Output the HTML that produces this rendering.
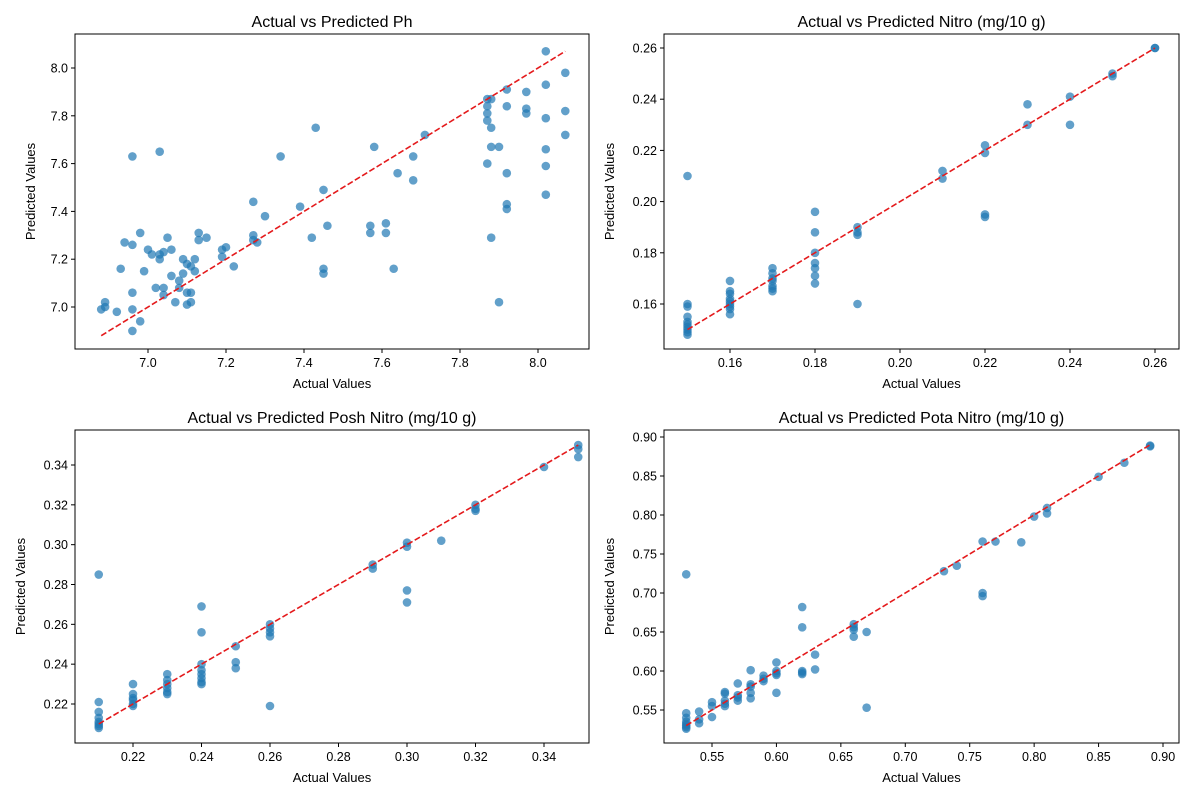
<!DOCTYPE html>
<html><head><meta charset="utf-8"><style>
html,body{margin:0;padding:0;background:#fff;}
svg{display:block;font-family:"Liberation Sans","DejaVu Sans",sans-serif;}
</style></head><body>
<svg id="fig" width="1200" height="800" viewBox="0 0 1200 800" xmlns="http://www.w3.org/2000/svg"></svg>
<script>
const phActual=[6.88,6.89,6.89,6.92,6.93,6.94,6.96,6.96,6.96,6.96,6.96,6.98,6.98,6.99,7.00,7.01,7.02,7.03,7.03,7.03,7.04,7.04,7.04,7.05,7.06,7.06,7.07,7.08,7.08,7.09,7.09,7.10,7.10,7.10,7.11,7.11,7.11,7.12,7.12,7.13,7.13,7.15,7.19,7.19,7.20,7.22,7.27,7.27,7.27,7.28,7.30,7.34,7.39,7.42,7.43,7.45,7.45,7.45,7.46,7.57,7.57,7.58,7.61,7.61,7.63,7.64,7.68,7.68,7.71,7.87,7.87,7.87,7.87,7.87,7.88,7.88,7.88,7.88,7.90,7.90,7.92,7.92,7.92,7.92,7.92,7.97,7.97,7.97,8.02,8.02,8.02,8.02,8.02,8.02,8.07,8.07,8.07];
const phPred=[6.99,7.02,7.00,6.98,7.16,7.27,7.63,7.26,7.06,6.99,6.90,7.31,6.94,7.15,7.24,7.22,7.08,7.65,7.22,7.20,7.23,7.08,7.05,7.29,7.24,7.13,7.02,7.11,7.08,7.20,7.14,7.18,7.06,7.01,7.17,7.06,7.02,7.20,7.15,7.31,7.28,7.29,7.24,7.21,7.25,7.17,7.44,7.30,7.28,7.27,7.38,7.63,7.42,7.29,7.75,7.49,7.16,7.14,7.34,7.34,7.31,7.67,7.35,7.31,7.16,7.56,7.63,7.53,7.72,7.87,7.84,7.81,7.78,7.60,7.87,7.75,7.67,7.29,7.67,7.02,7.91,7.84,7.56,7.43,7.41,7.90,7.83,7.81,8.07,7.93,7.79,7.66,7.59,7.47,7.98,7.82,7.72];
const nitroActual=[0.15,0.15,0.15,0.15,0.15,0.15,0.15,0.15,0.15,0.15,0.16,0.16,0.16,0.16,0.16,0.16,0.16,0.16,0.16,0.17,0.17,0.17,0.17,0.17,0.17,0.17,0.18,0.18,0.18,0.18,0.18,0.18,0.18,0.19,0.19,0.19,0.19,0.21,0.21,0.22,0.22,0.22,0.22,0.23,0.23,0.24,0.24,0.25,0.25,0.26,0.26];
const nitroPred=[0.210,0.160,0.159,0.155,0.153,0.152,0.151,0.150,0.149,0.148,0.169,0.165,0.164,0.162,0.161,0.160,0.159,0.158,0.156,0.174,0.172,0.170,0.169,0.167,0.166,0.165,0.196,0.188,0.180,0.176,0.174,0.171,0.168,0.190,0.188,0.187,0.160,0.212,0.209,0.222,0.219,0.195,0.194,0.238,0.230,0.241,0.230,0.250,0.249,0.260,0.260];
const poshActual=[0.21,0.21,0.21,0.21,0.21,0.21,0.21,0.21,0.22,0.22,0.22,0.22,0.22,0.22,0.23,0.23,0.23,0.23,0.23,0.23,0.24,0.24,0.24,0.24,0.24,0.24,0.24,0.24,0.25,0.25,0.25,0.26,0.26,0.26,0.26,0.26,0.29,0.29,0.30,0.30,0.30,0.30,0.31,0.32,0.32,0.32,0.34,0.35,0.35,0.35];
const poshPred=[0.285,0.221,0.216,0.213,0.211,0.210,0.209,0.208,0.230,0.225,0.223,0.222,0.220,0.219,0.235,0.232,0.230,0.228,0.226,0.225,0.269,0.256,0.240,0.237,0.235,0.233,0.231,0.230,0.249,0.241,0.238,0.260,0.258,0.256,0.254,0.219,0.290,0.288,0.301,0.299,0.277,0.271,0.302,0.320,0.318,0.317,0.339,0.350,0.348,0.344];
const potaActual=[0.53,0.53,0.53,0.53,0.53,0.53,0.53,0.53,0.54,0.54,0.54,0.55,0.55,0.55,0.56,0.56,0.56,0.56,0.56,0.57,0.57,0.57,0.57,0.58,0.58,0.58,0.58,0.58,0.59,0.59,0.59,0.60,0.60,0.60,0.60,0.60,0.62,0.62,0.62,0.62,0.62,0.63,0.63,0.66,0.66,0.66,0.66,0.67,0.67,0.73,0.74,0.76,0.76,0.76,0.77,0.79,0.80,0.81,0.81,0.85,0.87,0.89,0.89];
const potaPred=[0.724,0.546,0.540,0.535,0.532,0.530,0.528,0.526,0.548,0.538,0.533,0.560,0.555,0.541,0.573,0.571,0.562,0.558,0.555,0.584,0.569,0.566,0.562,0.601,0.583,0.580,0.572,0.565,0.594,0.590,0.587,0.611,0.600,0.597,0.595,0.572,0.682,0.656,0.600,0.598,0.596,0.621,0.602,0.660,0.656,0.653,0.644,0.650,0.553,0.728,0.735,0.766,0.700,0.696,0.766,0.765,0.798,0.809,0.802,0.849,0.867,0.889,0.888];
const phXTicks=[7.0,7.2,7.4,7.6,7.8,8.0];
const phYTicks=[7.0,7.2,7.4,7.6,7.8,8.0];
const nitroXTicks=[0.16,0.18,0.20,0.22,0.24,0.26];
const nitroYTicks=[0.16,0.18,0.20,0.22,0.24,0.26];
const poshXTicks=[0.22,0.24,0.26,0.28,0.30,0.32,0.34];
const poshYTicks=[0.22,0.24,0.26,0.28,0.30,0.32,0.34];
const potaXTicks=[0.55,0.60,0.65,0.70,0.75,0.80,0.85,0.90];
const potaYTicks=[0.55,0.60,0.65,0.70,0.75,0.80,0.85,0.90];

const NS="http://www.w3.org/2000/svg";
const fig=document.getElementById('fig');
function mk(tag,attrs,parent){const e=document.createElementNS(NS,tag);for(const k in attrs)e.setAttribute(k,attrs[k]);(parent||fig).appendChild(e);return e;}

function panel(cfg){
  const g=mk('g',{});
  
  
  const L=cfg.box[0],T=cfg.box[1],R=cfg.box[2],B=cfg.box[3];
  // linear scale via two reference tick positions
  const xs=v=>cfg.xr[1]+(v-cfg.xr[0])*(cfg.xr[3]-cfg.xr[1])/(cfg.xr[2]-cfg.xr[0]);
  const ys=v=>cfg.yr[1]+(v-cfg.yr[0])*(cfg.yr[3]-cfg.yr[1])/(cfg.yr[2]-cfg.yr[0]);
  const pts=mk('g',{},g);
  
  
  for(let i=0;i<cfg.xa.length;i++){
    const c=mk('circle',{cx:xs(cfg.xa[i]),cy:ys(cfg.ya[i]),r:4.3,fill:'#1f77b4','fill-opacity':0.7},pts);
    
    
  }
  const mn=Math.min(...cfg.xa),mx=Math.max(...cfg.xa);
  const ln=mk('line',{x1:xs(mn),y1:ys(mn),x2:xs(mx),y2:ys(mx),stroke:'#e41a1c','stroke-width':1.6,'stroke-dasharray':'6,2.5'},g);
  
  
  const fr=mk('rect',{x:L,y:T,width:R-L,height:B-T,fill:'none',stroke:'#000','stroke-width':1},g);
  
  
  cfg.xt.forEach(t=>{const x=xs(t);
    mk('line',{x1:x,y1:B,x2:x,y2:B+4,stroke:'#000'},g);
    const tx=mk('text',{x:x,y:B+18,'text-anchor':'middle','font-size':12.5,fill:'#000'},g);
    tx.textContent=t.toFixed(cfg.dp);
    
    });
  cfg.yt.forEach(t=>{const y=ys(t);
    mk('line',{x1:L-4,y1:y,x2:L,y2:y,stroke:'#000'},g);
    const tx=mk('text',{x:L-7,y:y+4.5,'text-anchor':'end','font-size':12.5,fill:'#000'},g);
    tx.textContent=t.toFixed(cfg.dp);
    
    });
  const ti=mk('text',{x:(L+R)/2,y:T-7,'text-anchor':'middle','font-size':16,fill:'#000'},g);
  ti.textContent=cfg.title;
  
  
  const xl=mk('text',{x:(L+R)/2,y:B+39,'text-anchor':'middle','font-size':13,fill:'#000'},g);
  xl.textContent='Actual Values';
  
  
  const yx=cfg.ylx,yy=(T+B)/2;
  const yl=mk('text',{x:yx,y:yy,'text-anchor':'middle','font-size':13,fill:'#000',transform:`rotate(-90 ${yx} ${yy})`},g);
  yl.textContent='Predicted Values';
  
  
}

panel({name:'ph-panel',title:'Actual vs Predicted Ph',box:[75,34,589,349],xr:[7.0,148,8.0,538],yr:[7.0,307,8.0,68],xa:phActual,ya:phPred,xt:phXTicks,yt:phYTicks,dp:1,ylx:35});
panel({name:'nitro-panel',title:'Actual vs Predicted Nitro (mg/10 g)',box:[664,34,1179,349],xr:[0.16,730,0.26,1155],yr:[0.16,304,0.26,48],xa:nitroActual,ya:nitroPred,xt:nitroXTicks,yt:nitroYTicks,dp:2,ylx:614});
panel({name:'posh-nitro-panel',title:'Actual vs Predicted Posh Nitro (mg/10 g)',box:[75,430,589,743],xr:[0.22,133,0.34,544],yr:[0.22,704,0.34,465],xa:poshActual,ya:poshPred,xt:poshXTicks,yt:poshYTicks,dp:2,ylx:25});
panel({name:'pota-nitro-panel',title:'Actual vs Predicted Pota Nitro (mg/10 g)',box:[664,430,1179,743],xr:[0.55,712,0.90,1163],yr:[0.55,710,0.90,437],xa:potaActual,ya:potaPred,xt:potaXTicks,yt:potaYTicks,dp:2,ylx:614});
</script>
</body></html>
